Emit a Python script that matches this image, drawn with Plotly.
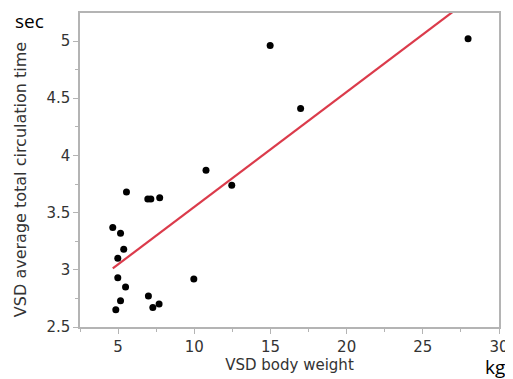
import plotly.graph_objects as go

# Data
body_weight = [5.55, 6.95, 7.15, 7.73, 4.65, 5.16, 5.37, 4.98, 4.98, 5.49, 5.16, 4.85,
               6.99, 7.28, 7.69, 9.97, 12.46, 10.77, 14.98, 16.98, 27.97]
circ_time = [3.68, 3.62, 3.62, 3.63, 3.37, 3.32, 3.18, 3.10, 2.93, 2.85, 2.73, 2.65,
             2.77, 2.67, 2.70, 2.92, 3.74, 3.87, 4.96, 4.41, 5.02]
fit_intercept = 2.545
fit_slope = 0.1005
x_ticks = [5, 10, 15, 20, 25, 30]
x_tick_labels = ["5", "10", "15", "20", "25", "30"]
y_ticks = [2.5, 3, 3.5, 4, 4.5, 5]
y_tick_labels = ["2.5", "3", "3.5", "4", "4.5", "5"]

fit_x = [min(body_weight), max(body_weight)]
fit_y = [fit_intercept + fit_slope * v for v in fit_x]

font_fam = "DejaVu Sans"
axis_col = "#b4b4b4"
text_col = "#333333"

fig = go.Figure()
fig.add_trace(go.Scatter(x=fit_x, y=fit_y, mode="lines",
                         line=dict(color="#DB3B4B", width=2.2), showlegend=False))
fig.add_trace(go.Scatter(x=body_weight, y=circ_time, mode="markers",
                         marker=dict(color="black", size=7), showlegend=False))

fig.update_layout(
    width=505, height=371,
    margin=dict(l=72, r=14, t=5, b=52),
    plot_bgcolor="white", paper_bgcolor="white",
    font=dict(family=font_fam, color=text_col, size=13),
    xaxis=dict(range=[2.5, 30], tickvals=x_ticks, ticktext=x_tick_labels, ticks="outside", ticklen=5,
               tickcolor=axis_col, showline=True, linecolor=axis_col, linewidth=1.5,
               mirror=True, showgrid=False, zeroline=False, automargin=False,
               minor=dict(dtick=2.5, ticks="outside", ticklen=3, tickcolor=axis_col, showgrid=False),
               tickfont=dict(size=15, color=text_col),
               title=dict(text="VSD body weight", font=dict(size=15, color=text_col), standoff=5)),
    yaxis=dict(range=[2.5, 5.245], tickvals=y_ticks, ticktext=y_tick_labels, ticks="outside", ticklen=5,
               tickcolor=axis_col, showline=True, linecolor=axis_col, linewidth=1.5,
               mirror=True, showgrid=False, zeroline=False, automargin=False,
               minor=dict(dtick=0.25, ticks="outside", ticklen=3, tickcolor=axis_col, showgrid=False),
               tickfont=dict(size=15, color=text_col)),
)

fig.add_annotation(text="VSD average total circulation time", xref="paper", yref="paper",
                   x=-0.143, y=0.468, xanchor="center", yanchor="middle", textangle=-90,
                   showarrow=False, font=dict(size=16, color=text_col))
fig.add_annotation(text="sec", xref="paper", yref="paper", x=-0.1217, y=0.975,
                   xanchor="center", yanchor="middle", showarrow=False,
                   font=dict(family="Open Sans", size=19, color="black"))
fig.add_annotation(text="kg", xref="paper", yref="paper", x=0.99, y=-0.127,
                   xanchor="center", yanchor="middle", showarrow=False,
                   font=dict(family="Open Sans", size=19, color="black"))

fig.write_html("out.html")
